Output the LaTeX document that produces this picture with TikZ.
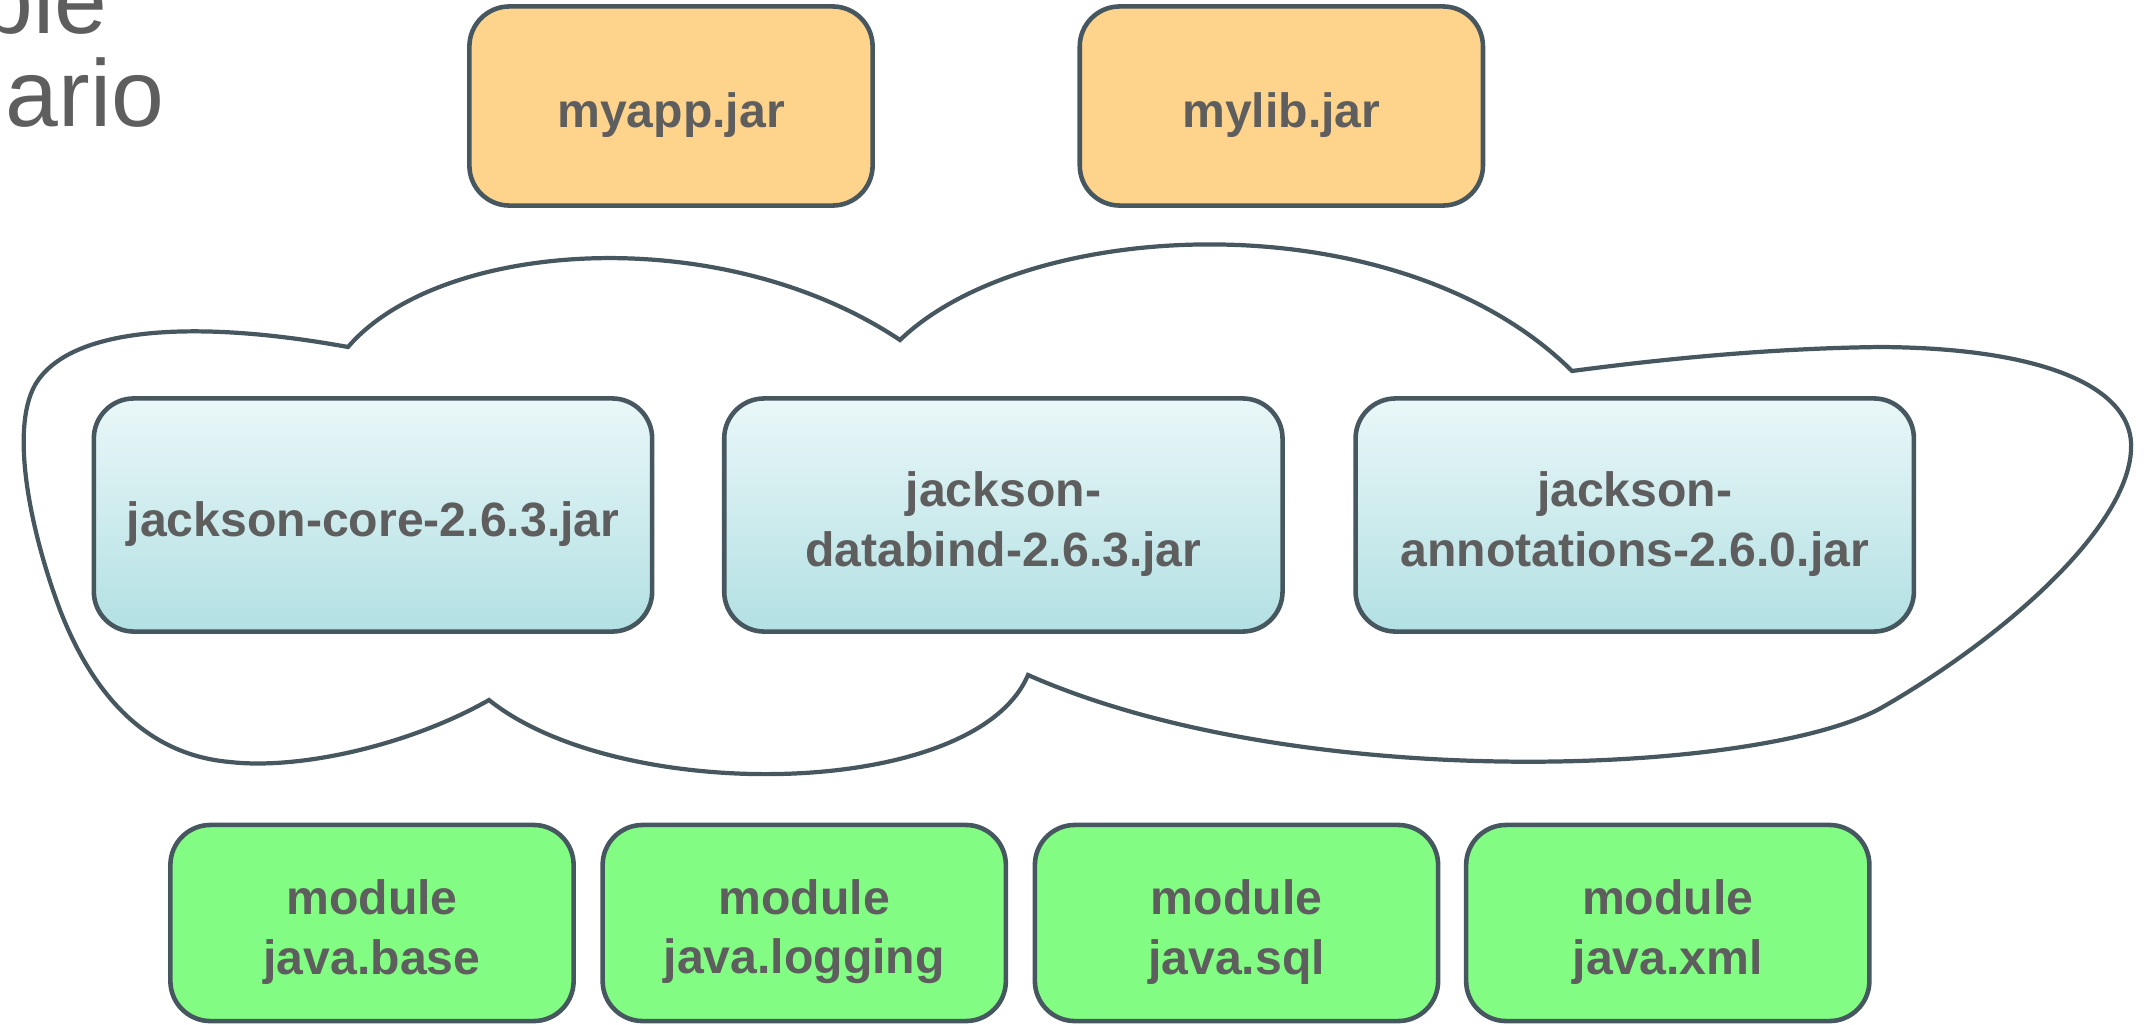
\documentclass[tikz,border=0pt]{standalone}
\usepackage{fontspec}
\setmainfont{Liberation Sans}
\usetikzlibrary{positioning}
\definecolor{edgegray}{HTML}{46575F}
\definecolor{textgray}{HTML}{5E5E5E}
\definecolor{jarorange}{HTML}{FED38B}
\definecolor{modgreen}{HTML}{82FC82}
\definecolor{cyantop}{HTML}{EAF7F8}
\definecolor{cyanbot}{HTML}{B2E0E3}
\newcommand{\lowstrut}{\rule{0pt}{0.53cm}}

\begin{document}
\begin{tikzpicture}[x=0.01cm,y=-0.01cm,
		base box/.style={draw=edgegray,line width=1.3pt,rounded corners=0.4cm,
			inner sep=0pt,outer sep=0pt,align=center,text=textgray,
			font=\fontsize{13.7}{16.8}\selectfont\bfseries},
		app box/.style={base box,fill=jarorange,minimum width=4.03cm,minimum height=1.99cm},
		lib box/.style={base box,top color=cyantop,bottom color=cyanbot,
			minimum width=5.58cm,minimum height=2.33cm},
		mod box/.style={base box,fill=modgreen,minimum width=4.03cm,minimum height=1.96cm},
		title/.style={text=textgray,inner sep=0pt,font=\fontsize{27}{30}\selectfont}]
		
		\useasboundingbox (0,0) rectangle (2149,1024);
		
		% slide title, cut off at the border
		\node[title,anchor=base east] (title1) at (108,33) {ble};
		\node[title,anchor=base west] (title2) at (5,126) {ario};
		
		% the cloud round the jackson jars
		\draw[edgegray,line width=1.2pt,fill=white]
		(348,347) .. controls (440,240) and (720,220) .. (900,340)
		.. controls (1030,215) and (1400,200) .. (1572,371)
		.. controls (1700,354) and (1800,348) .. (1880,347)
		.. controls (2050,348) and (2135,390) .. (2131,450)
		.. controls (2127,530) and (2000,640) .. (1881,708)
		.. controls (1760,775) and (1300,795) .. (1028,675)
		.. controls (975,800) and (620,805) .. (489,700)
		.. controls (410,745) and (300,770) .. (230,762)
		.. controls (150,755) and (95,700) .. (60,610)
		.. controls (30,530) and (10,430) .. (35,385)
		.. controls (70,325) and (200,320) .. (348,347) -- cycle;
		
		\node[app box] (myapp) at (671,106) {\lowstrut myapp.jar};
		\node[app box,right=2.07cm of myapp] (mylib) {\lowstrut mylib.jar};
		
		\node[lib box] (core) at (373,515) {\lowstrut jackson-core-2.6.3.jar};
		\node[lib box,right=0.72cm of core] (databind) {\lowstrut jackson-\\databind-2.6.3.jar};
		\node[lib box,right=0.73cm of databind] (annotations) {\lowstrut jackson-\\annotations-2.6.0.jar};
		
		\node[mod box] (base) at (372,923) {\lowstrut module\\java.base};
		\node[mod box,right=0.29cm of base] (logging) {\lowstrut module\\java.logging};
		\node[mod box,right=0.29cm of logging] (sql) {\lowstrut module\\java.sql};
		\node[mod box,right=0.28cm of sql] (xml) {\lowstrut module\\java.xml};
		
		\end{tikzpicture}
\end{document}
